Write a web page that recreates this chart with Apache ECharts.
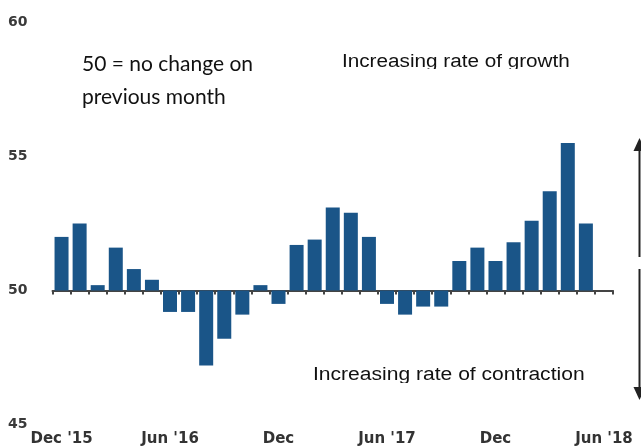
<!DOCTYPE html>
<html>
<head>
<meta charset="utf-8">
<script src="https://cdn.jsdelivr.net/npm/echarts@6/dist/echarts.min.js"></script>
<style>
  html, body { margin: 0; padding: 0; background: #fff; }
  #chart { width: 641px; height: 448px; }
</style>
</head>
<body>
<div id="chart"></div>
<script>
// PMI-style index, 50 = no change on previous month
var months = [
    "Dec '15",
    "Jan '16", "Feb '16", "Mar '16", "Apr '16", "May '16", "Jun '16",
    "Jul '16", "Aug '16", "Sep '16", "Oct '16", "Nov '16", "Dec '16",
    "Jan '17", "Feb '17", "Mar '17", "Apr '17", "May '17", "Jun '17",
    "Jul '17", "Aug '17", "Sep '17", "Oct '17", "Nov '17", "Dec '17",
    "Jan '18", "Feb '18", "Mar '18", "Apr '18", "May '18", "Jun '18"
];
var index = [
    52.0,
    52.5, 50.2, 51.6, 50.8, 50.4, 49.2,
    49.2, 47.2, 48.2, 49.1, 50.2, 49.5,
    51.7, 51.9, 53.1, 52.9, 52.0, 49.5,
    49.1, 49.4, 49.4, 51.1, 51.6, 51.1,
    51.8, 52.6, 53.7, 55.5, 52.5, null
];
var tickLabels = ["Dec '15", "Jun '16", "Dec", "Jun '17", "Dec", "Jun '18"];
var yTicks = [45, 50, 55, 60];
var neutral = 50;

// bars hang off the 50 line, so plot the distance from it
var diffs = index.map(function (v) {
    return v == null ? null : +(v - neutral).toFixed(1);
});

var labelFont = 'DejaVu Sans';
var chart = echarts.init(document.getElementById('chart'), null, { renderer: 'canvas' });

var option = {
    backgroundColor: '#fff',
    animation: false,
    grid: { left: 52.5, right: 28, top: 22.5, bottom: 23.5 },
    xAxis: [{
        type: 'category',
        data: months,
        boundaryGap: true,
        axisLine: { onZero: true, lineStyle: { color: '#444', width: 2 } },
        axisTick: { show: true, interval: 0, length: 4, lineStyle: { color: '#444', width: 2 } },
        axisLabel: { show: false, interval: 0 },
        splitLine: { show: false }
    }, {
        type: 'category',
        data: months,
        position: 'bottom',
        axisLine: { show: false, onZero: false },
        axisTick: { show: false },
        axisLabel: {
            interval: 5,
            margin: 7,
            fontFamily: labelFont,
            fontWeight: 'bold',
            fontSize: 15,
            color: '#333',
            formatter: function (val, i) { return tickLabels[i / 6]; }
        }
    }],
    yAxis: {
        type: 'value',
        min: yTicks[0] - neutral,
        max: yTicks[yTicks.length - 1] - neutral,
        interval: 5,
        axisLine: { show: false },
        axisTick: { show: false },
        splitLine: { show: false },
        axisLabel: {
            align: 'left',
            margin: 44.5,
            fontFamily: labelFont,
            fontWeight: 'bold',
            fontSize: 14,
            color: '#3a3a3a',
            formatter: function (v) { return v + neutral; }
        }
    },
    series: [{
        type: 'bar',
        xAxisIndex: 0,
        data: diffs,
        barWidth: 14,
        itemStyle: { color: '#1a5588' }
    }],
    graphic: [
        // notes
        { type: 'text', x: 82, y: 64, style: { text: '50 = no change on', font: '21px Lato', fill: '#111', textVerticalAlign: 'middle' } },
        { type: 'text', x: 82, y: 97, style: { text: 'previous month', font: '21px Lato', fill: '#111', textVerticalAlign: 'middle' } },
        { type: 'text', x: 342, y: 62, scaleX: 1.15, style: { text: 'Increasing rate of growth', font: '18px "Liberation Sans"', fill: '#111', textVerticalAlign: 'middle' } },
        { type: 'rect', z: 100, shape: { x: 338, y: 69, width: 240, height: 8 }, style: { fill: '#fff' } },
        { type: 'text', x: 313, y: 375.5, scaleX: 1.17, style: { text: 'Increasing rate of contraction', font: '18px "Liberation Sans"', fill: '#111', textVerticalAlign: 'middle' } },
        { type: 'rect', z: 100, shape: { x: 310, y: 383, width: 285, height: 8 }, style: { fill: '#fff' } },
        // arrows on the right
        { type: 'line', shape: { x1: 639.5, y1: 148, x2: 639.5, y2: 257 }, style: { stroke: '#222', lineWidth: 2 } },
        { type: 'polygon', shape: { points: [[639.5, 138], [633.5, 151], [645.5, 151]] }, style: { fill: '#222' } },
        { type: 'line', shape: { x1: 639.5, y1: 269, x2: 639.5, y2: 390 }, style: { stroke: '#222', lineWidth: 2 } },
        { type: 'polygon', shape: { points: [[639.5, 400], [633.5, 387], [645.5, 387]] }, style: { fill: '#222' } }
    ]
};
chart.setOption(option);
window.onresize = function () { chart.resize(); };
</script>
</body>
</html>
